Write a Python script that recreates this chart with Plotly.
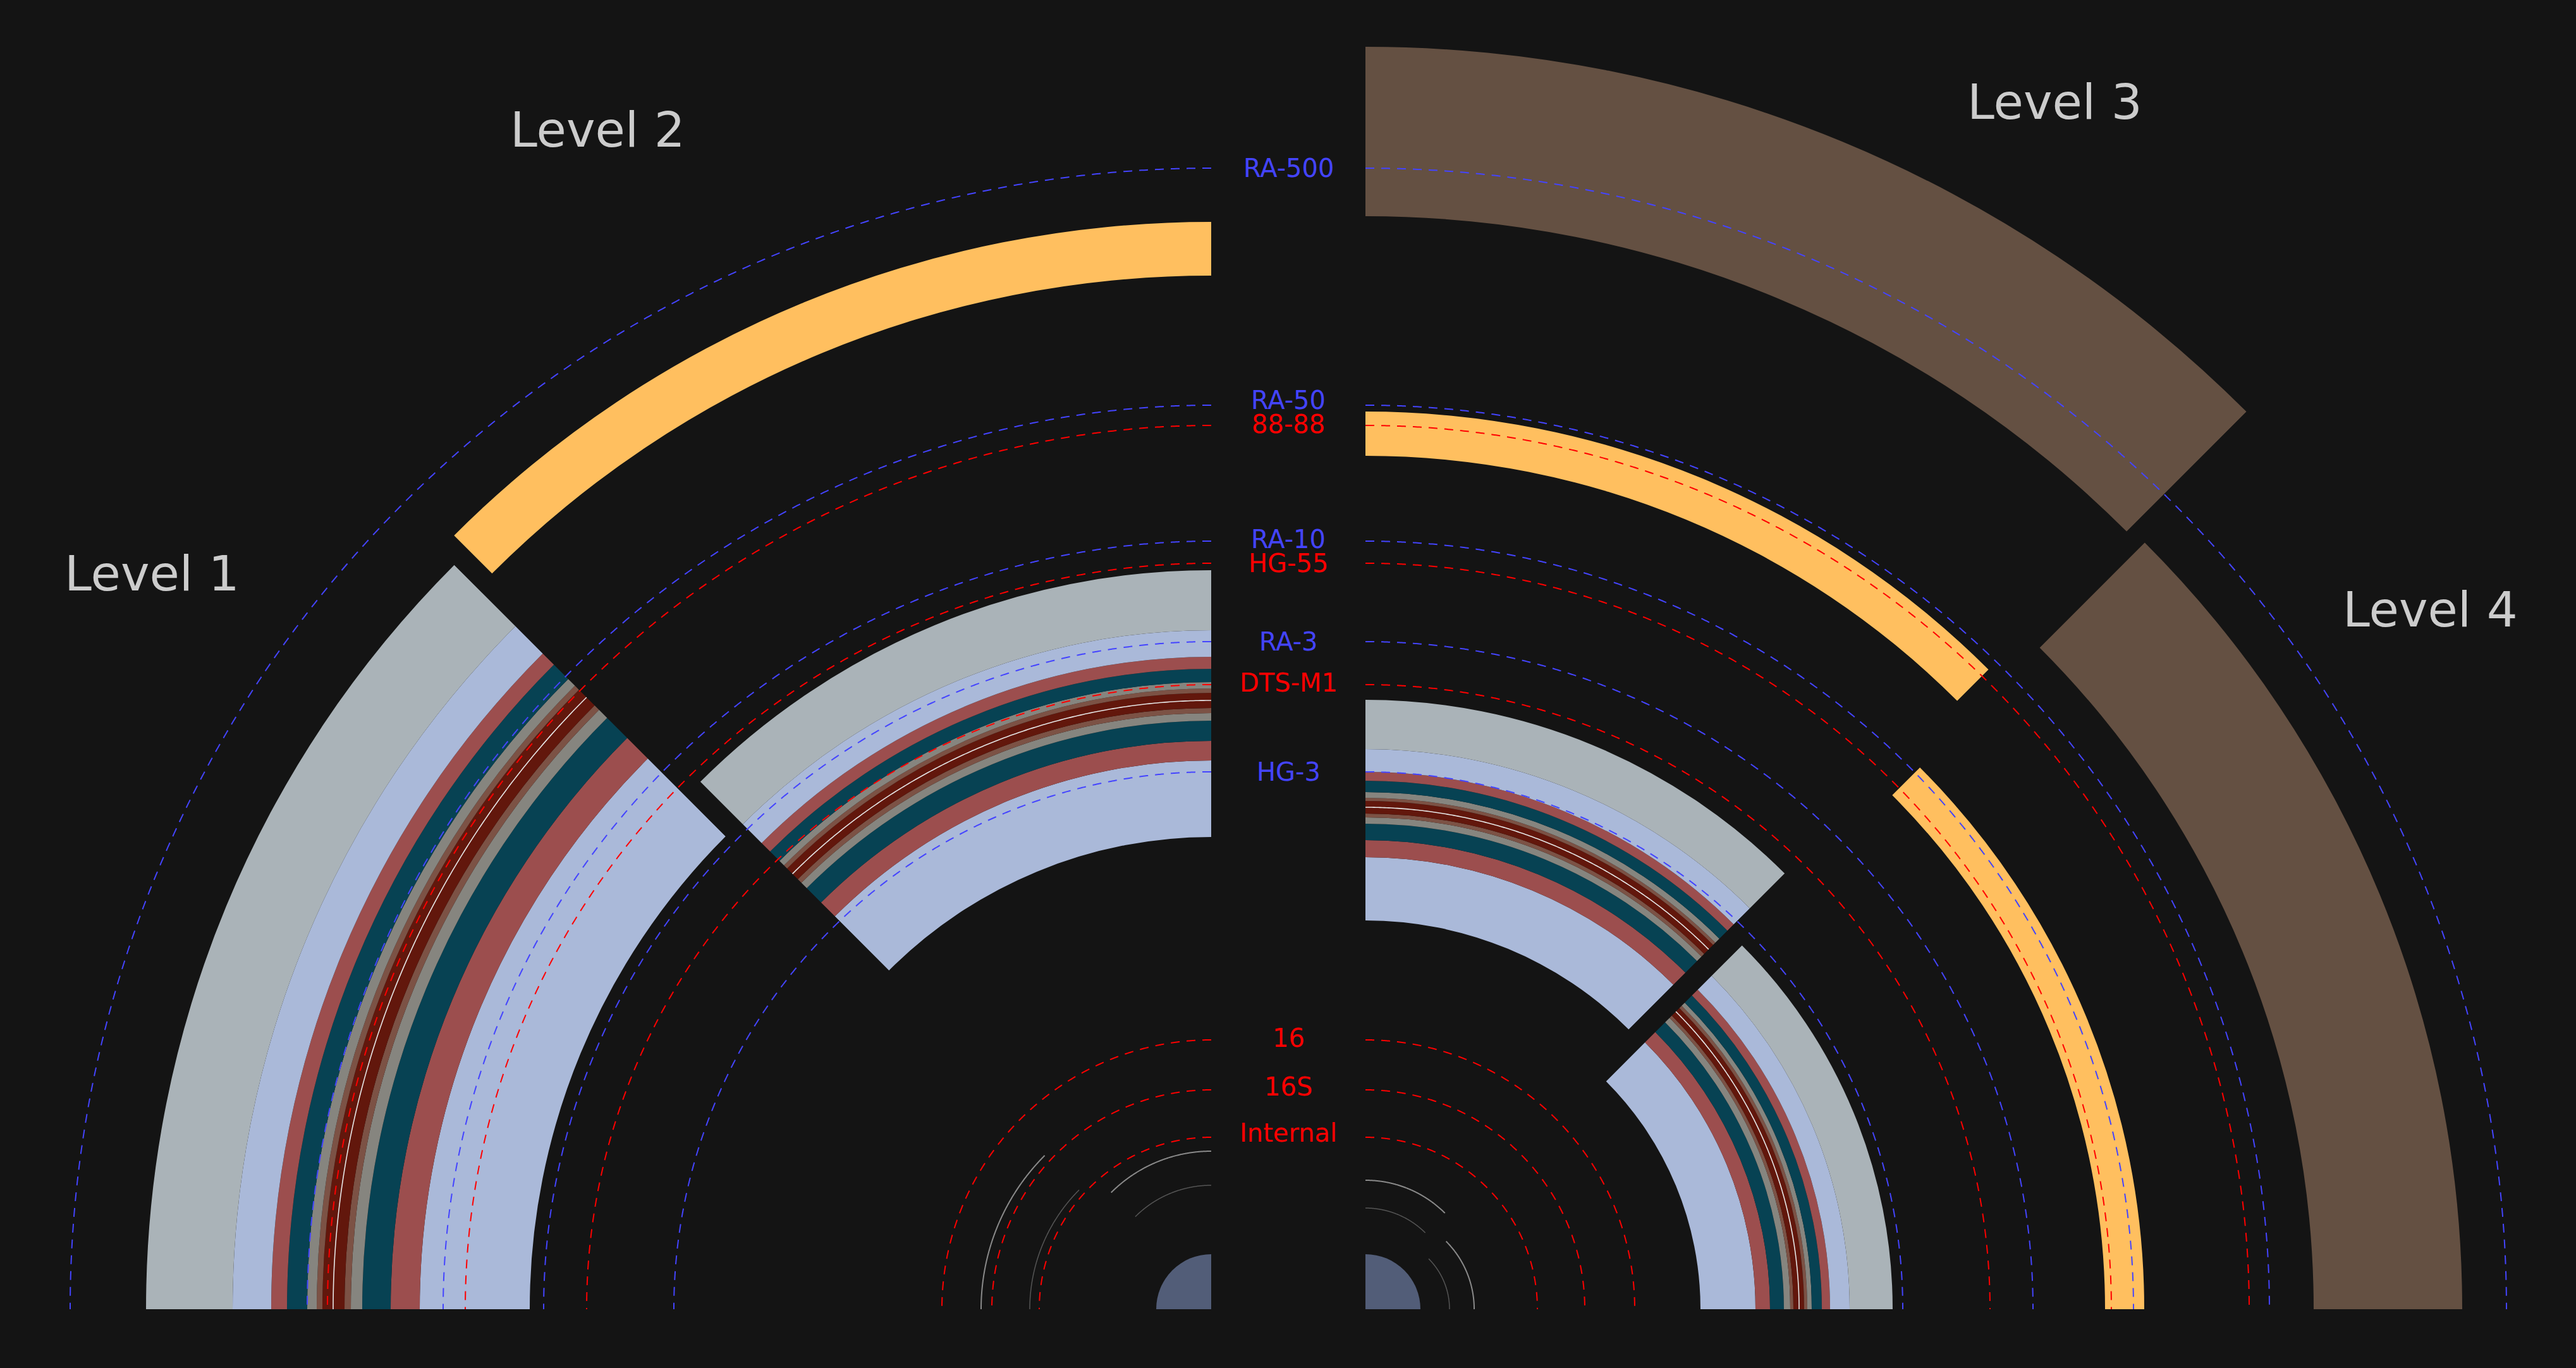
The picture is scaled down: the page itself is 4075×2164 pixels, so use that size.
import numpy as np
import plotly.graph_objects as go

# ---------------- data ----------------
levels = ["Level 1", "Level 2", "Level 3", "Level 4"]
level_sectors = [[135, 180], [90, 135], [45, 90], [0, 45]]

# 12 stripes from inner to outer, 13 boundaries per level
band_colors = ["#aab9d9", "#9c4e4e", "#074253", "#86857f", "#7c5245", "#62170c",
               "#7c5245", "#86857f", "#074253", "#9c4e4e", "#aab9d9", "#aab3b8"]
level1_edges = [1058, 1232, 1278, 1323, 1341, 1351, 1386, 1395, 1410, 1442, 1467, 1528, 1665]
level2_edges = [721, 842, 873, 905, 917, 925, 949, 956, 966, 987, 1006, 1048, 1143]
level3_edges = [589, 689, 716, 742, 752, 758, 778, 783, 792, 810, 824, 860, 938]
level4_edges = [510, 597, 620, 642, 652, 657, 674, 679, 686, 702, 715, 746, 814]
level_medians = [1369, 937, 768, 666]

yellow_inner = [None, 1609, 1324, 1150]
yellow_outer = [None, 1694, 1394, 1212]
brown_inner = [None, None, 1703, 1480]
brown_outer = [None, None, 1971, 1715]

thin_bright = [344, 224, 178, 152]
thin_dim = [267, 170, 134, 113]

ref_names = ["RA-500", "RA-50", "88-88", "RA-10", "HG-55", "RA-3", "DTS-M1", "HG-3",
             "16", "16S", "Internal"]
ref_values = [1805, 1430, 1398, 1215, 1180, 1056, 988, 850, 426, 347, 272]
ref_colors = ["#4444ff", "#4444ff", "#ff0000", "#4444ff", "#ff0000", "#4444ff", "#ff0000",
              "#4444ff", "#ff0000", "#ff0000", "#ff0000"]
ref_nudge = [0, 8, 2, 3, 0, 0, 3, 0, 3, 5, 7]

core_value = 87

# ---------------- geometry / style ----------------
W, H = 4075, 2164
BG = "#141414"
YELLOW = "#ffbf5f"
BROWN = "#645042"
SLATE = "#525d78"
CXL, CXR, CY = 1916, 2160, 2071
level_centers = [(CXL - 20, CY), (CXL, CY - 26), (CXR, CY - 26), (CXR + 20, CY)]
level_R = [1800, 1800, 2000, 1850]
HALF_R = 1900
all_edges = [level1_edges, level2_edges, level3_edges, level4_edges]


def sector_bbox(sector):
    angs = [sector[0], sector[1]] + [a for a in (0, 90, 180, 270, 360)
                                     if sector[0] < a < sector[1]]
    xs = [0.0] + [np.cos(np.radians(a)) for a in angs]
    ys = [0.0] + [np.sin(np.radians(a)) for a in angs]
    xs = [0.0 if abs(v) < 1e-9 else v for v in xs]
    ys = [0.0 if abs(v) < 1e-9 else v for v in ys]
    return min(xs), min(ys), max(xs), max(ys)


def polar_layout(cx, cy, R, sector):
    bx0, by0, bx1, by1 = sector_bbox(sector)
    x0, x1 = (cx + R * bx0) / W, (cx + R * bx1) / W
    ytop, ybot = cy - R * by1, cy - R * by0
    return dict(
        domain=dict(x=[x0, x1], y=[(H - ybot) / H, (H - ytop) / H]),
        sector=sector,
        bgcolor="rgba(0,0,0,0)",
        barmode="overlay",
        radialaxis=dict(visible=False, range=[0, R]),
        angularaxis=dict(visible=False),
    )


fig = go.Figure()
layout_polars = {}

# ---- level subplots (polar, polar2, polar3, polar4) ----
for i in range(4):
    pid = "polar" if i == 0 else f"polar{i + 1}"
    cx, cy = level_centers[i]
    sec = level_sectors[i]
    layout_polars[pid] = polar_layout(cx, cy, level_R[i], sec)
    mid = (sec[0] + sec[1]) / 2
    span = sec[1] - sec[0]

    rs, bases, cols = [], [], []
    if brown_inner[i] is not None:
        rs.append(brown_outer[i] - brown_inner[i]); bases.append(brown_inner[i]); cols.append(BROWN)
    if yellow_inner[i] is not None:
        rs.append(yellow_outer[i] - yellow_inner[i]); bases.append(yellow_inner[i]); cols.append(YELLOW)
    e = all_edges[i]
    for k in range(len(e) - 1):
        rs.append(e[k + 1] - e[k]); bases.append(e[k]); cols.append(band_colors[k])
    fig.add_trace(go.Barpolar(
        r=rs, base=bases, theta=[mid] * len(rs), width=[span] * len(rs),
        marker=dict(color=cols, line=dict(width=0)), subplot=pid,
        hoverinfo="skip", showlegend=False))

    th = np.linspace(sec[0], sec[1], 181)
    fig.add_trace(go.Scatterpolar(
        r=[level_medians[i]] * len(th), theta=th, mode="lines",
        line=dict(color="#e6e6e6", width=1.6), subplot=pid,
        hoverinfo="skip", showlegend=False))
    fig.add_trace(go.Scatterpolar(
        r=[thin_bright[i]] * len(th), theta=th, mode="lines",
        line=dict(color="#8a8a8a", width=2), subplot=pid,
        hoverinfo="skip", showlegend=False))
    fig.add_trace(go.Scatterpolar(
        r=[thin_dim[i]] * len(th), theta=th, mode="lines",
        line=dict(color="#555555", width=1.5), subplot=pid,
        hoverinfo="skip", showlegend=False))

# ---- half subplots with reference circles (polar5 left, polar6 right) ----
halves = [("polar5", CXL, [90, 180], np.linspace(90, 180, 721)),
          ("polar6", CXR, [0, 90], np.linspace(90, 0, 721))]
for pid, cx, sec, th in halves:
    layout_polars[pid] = polar_layout(cx, CY, HALF_R, sec)
    fig.add_trace(go.Barpolar(
        r=[core_value], base=[0], theta=[(sec[0] + sec[1]) / 2], width=[90],
        marker=dict(color=SLATE, line=dict(width=0)), subplot=pid,
        hoverinfo="skip", showlegend=False))
    for name, val, col in zip(ref_names, ref_values, ref_colors):
        fig.add_trace(go.Scatterpolar(
            r=[val] * len(th), theta=th, mode="lines",
            line=dict(color=col, width=2, dash="14px,11px"), subplot=pid,
            hoverinfo="skip", showlegend=False, name=name))

# ---- annotations ----
annotations = []
xmid = (CXL + CXR) / 2 / W
for name, val, col, nud in zip(ref_names, ref_values, ref_colors, ref_nudge):
    ypix = CY - val
    annotations.append(dict(
        x=xmid, y=(H - ypix) / H, xref="paper", yref="paper", text=name,
        showarrow=False, xanchor="center", yanchor="middle", yshift=nud,
        font=dict(family="DejaVu Sans", size=40, color=col)))

title_pos = [(240, 907), (945, 205), (3250, 161), (3844, 964)]
for name, (px, py) in zip(levels, title_pos):
    annotations.append(dict(
        x=px / W, y=(H - py) / H, xref="paper", yref="paper", text=name,
        showarrow=False, xanchor="center", yanchor="middle",
        font=dict(family="DejaVu Sans", size=77, color="#cccccc")))

fig.update_layout(
    width=W, height=H, autosize=False,
    margin=dict(l=0, r=0, t=0, b=0),
    paper_bgcolor=BG, plot_bgcolor=BG,
    showlegend=False,
    font=dict(family="DejaVu Sans", color="#cccccc"),
    annotations=annotations,
    **layout_polars,
)

fig.write_html("out.html")
